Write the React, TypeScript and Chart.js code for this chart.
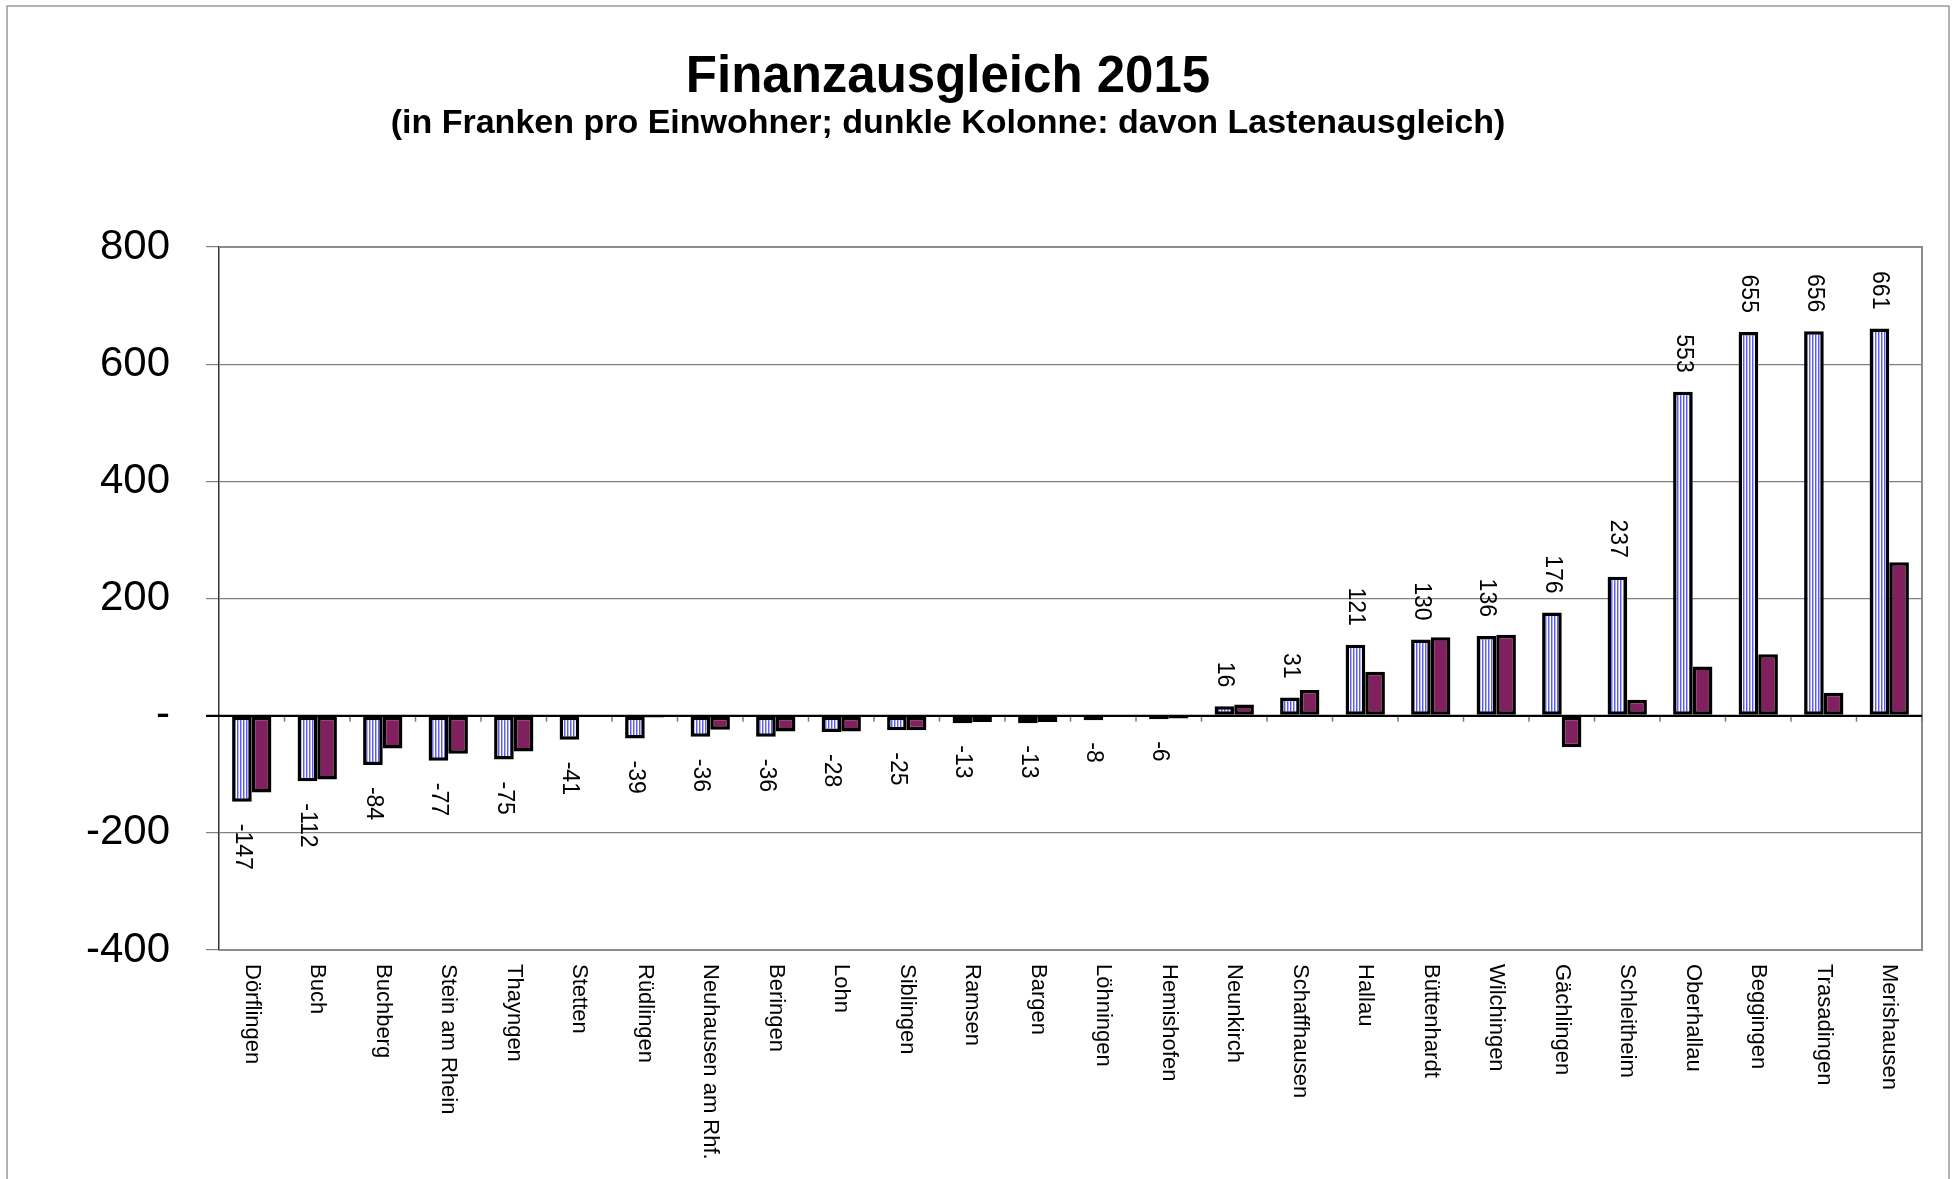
import React, { useEffect, useRef } from "react";
import { Chart, registerables } from "chart.js";

Chart.register(...registerables);

const titleText = "Finanzausgleich 2015";
const subtitleText = "(in Franken pro Einwohner; dunkle Kolonne: davon Lastenausgleich)";

const categories = [
  "Dörflingen", "Buch", "Buchberg", "Stein am Rhein", "Thayngen", "Stetten",
  "Rüdlingen", "Neuhausen am Rhf.", "Beringen", "Lohn", "Siblingen", "Ramsen",
  "Bargen", "Löhningen", "Hemishofen", "Neunkirch", "Schaffhausen", "Hallau",
  "Büttenhardt", "Wilchingen", "Gächlingen", "Schleitheim", "Oberhallau",
  "Beggingen", "Trasadingen", "Merishausen",
];

const totalValues = [
  -147, -112, -84, -77, -75, -41, -39, -36, -36, -28, -25, -13, -13, -8, -6,
  16, 31, 121, 130, 136, 176, 237, 553, 655, 656, 661,
];

const lastenValues = [
  -131, -109, -56, -65, -61, 0, -3, -24, -27, -27, -25, -11, -11, 0, -5,
  19, 44, 75, 134, 138, -54, 27, 84, 105, 39, 262,
];

const yTicks = [-400, -200, 0, 200, 400, 600, 800];

const FONT = "'Liberation Sans', Arial, sans-serif";

function makeStripePattern(): CanvasPattern | string {
  const pc = document.createElement("canvas");
  pc.width = 3;
  pc.height = 1;
  const c = pc.getContext("2d");
  if (!c) return "#a8a8f5";
  c.fillStyle = "#ffffff";
  c.fillRect(0, 0, 3, 1);
  c.fillStyle = "#5c5cf0";
  c.fillRect(0, 0, 1, 1);
  c.fillStyle = "#b4b4f8";
  c.fillRect(1, 0, 1, 1);
  const p = c.createPattern(pc, "repeat");
  return p || "#a8a8f5";
}

const excelPlugin = {
  id: "excelLook",
  beforeDraw(chart: any) {
    const ctx = chart.ctx;
    ctx.save();
    ctx.strokeStyle = "#9a9a9a";
    ctx.lineWidth = 1.5;
    ctx.beginPath();
    ctx.moveTo(7, chart.height + 10);
    ctx.lineTo(7, 6);
    ctx.lineTo(1949, 6);
    ctx.lineTo(1949, chart.height + 10);
    ctx.stroke();
    ctx.restore();
  },
  afterDatasetsDraw(chart: any) {
    const ctx = chart.ctx as CanvasRenderingContext2D;
    const a = chart.chartArea;
    const xs = chart.scales.x;
    const ys = chart.scales.y;
    const y0 = ys.getPixelForValue(0);
    ctx.save();

    // plot area border (top, right, bottom)
    ctx.strokeStyle = "#8c8c8c";
    ctx.lineWidth = 2;
    ctx.beginPath();
    ctx.moveTo(a.left, a.top);
    ctx.lineTo(a.right, a.top);
    ctx.lineTo(a.right, a.bottom);
    ctx.lineTo(a.left, a.bottom);
    ctx.stroke();

    // category boundary ticks on the zero line
    ctx.strokeStyle = "#7a7a7a";
    ctx.lineWidth = 1.5;
    for (let i = 1; i <= categories.length; i++) {
      const px =
        i < categories.length
          ? (xs.getPixelForValue(i - 1) + xs.getPixelForValue(i)) / 2
          : a.right;
      ctx.beginPath();
      ctx.moveTo(px, y0);
      ctx.lineTo(px, y0 + 6);
      ctx.stroke();
    }

    // zero axis line
    ctx.strokeStyle = "#000000";
    ctx.lineWidth = 2;
    ctx.beginPath();
    ctx.moveTo(a.left - 13, y0);
    ctx.lineTo(a.right, y0);
    ctx.stroke();

    // category labels, rotated clockwise
    ctx.fillStyle = "#000000";
    ctx.font = `22px ${FONT}`;
    ctx.textBaseline = "middle";
    categories.forEach((name, i) => {
      const px = xs.getPixelForValue(i);
      ctx.save();
      ctx.translate(px, a.bottom + 14);
      ctx.rotate(Math.PI / 2);
      ctx.textAlign = "left";
      ctx.fillText(name, 0, 0);
      ctx.restore();
    });

    // data labels for first series
    ctx.font = `23px ${FONT}`;
    const meta = chart.getDatasetMeta(0);
    meta.data.forEach((bar: any, i: number) => {
      const v = totalValues[i];
      ctx.save();
      if (v >= 0) {
        ctx.translate(bar.x, bar.y - 19);
        ctx.rotate(Math.PI / 2);
        ctx.textAlign = "right";
      } else {
        ctx.translate(bar.x, bar.y + 22);
        ctx.rotate(Math.PI / 2);
        ctx.textAlign = "left";
      }
      ctx.fillText(String(v), 0, 0);
      ctx.restore();
    });

    // titles
    ctx.textAlign = "center";
    ctx.textBaseline = "alphabetic";
    ctx.font = `bold 51px ${FONT}`;
    ctx.fillText(titleText, 948, 92);
    ctx.font = `bold 34px ${FONT}`;
    ctx.fillText(subtitleText, 948, 133);

    ctx.restore();
  },
};

export default function App() {
  const ref = useRef<HTMLCanvasElement | null>(null);

  useEffect(() => {
    if (!ref.current) return;
    const stripe = makeStripePattern();
    const chart = new Chart(ref.current, {
      type: "bar",
      data: {
        labels: categories,
        datasets: [
          {
            label: "Finanzausgleich",
            data: totalValues,
            backgroundColor: stripe as any,
            borderColor: "#000000",
            borderWidth: 3.5,
            borderSkipped: false,
          },
          {
            label: "Lastenausgleich",
            data: lastenValues,
            backgroundColor: "#80205e",
            borderColor: "#000000",
            borderWidth: 3.5,
            borderSkipped: false,
          },
        ],
      },
      options: {
        responsive: false,
        animation: false,
        devicePixelRatio: 1,
        layout: { padding: { left: 0, top: 247, right: 37, bottom: 229 } },
        datasets: {
          bar: { categoryPercentage: 0.6, barPercentage: 1.0 },
        },
        plugins: {
          legend: { display: false },
          tooltip: { enabled: false },
          title: { display: false },
        },
        scales: {
          x: {
            type: "category",
            display: false,
            offset: true,
            grid: { display: false },
          },
          y: {
            type: "linear",
            min: yTicks[0],
            max: yTicks[yTicks.length - 1],
            afterBuildTicks: (scale: any) => {
              scale.ticks = yTicks.map((v) => ({ value: v }));
            },
            afterFit: (scale: any) => {
              scale.width = 219;
            },
            border: { display: true, color: "#333333", width: 1.5 },
            grid: {
              color: (c: any) => (c.tick && c.tick.value === 0 ? "#000000" : "#7f7f7f"),
              lineWidth: (c: any) => (c.tick && c.tick.value === 0 ? 2 : 1.2),
              tickLength: 13,
              drawTicks: true,
            },
            ticks: {
              color: "#000000",
              padding: 36,
              font: { family: FONT, size: 42 },
              callback: (v: any) => (Number(v) === 0 ? "-" : String(v)),
            },
          },
        },
      },
      plugins: [excelPlugin],
    });
    return () => chart.destroy();
  }, []);

  return (
    <div style={{ position: "fixed", left: 0, top: 0, width: 1959, height: 1179, background: "#fff" }}>
      <canvas ref={ref} width={1959} height={1179} style={{ display: "block" }} />
    </div>
  );
}
